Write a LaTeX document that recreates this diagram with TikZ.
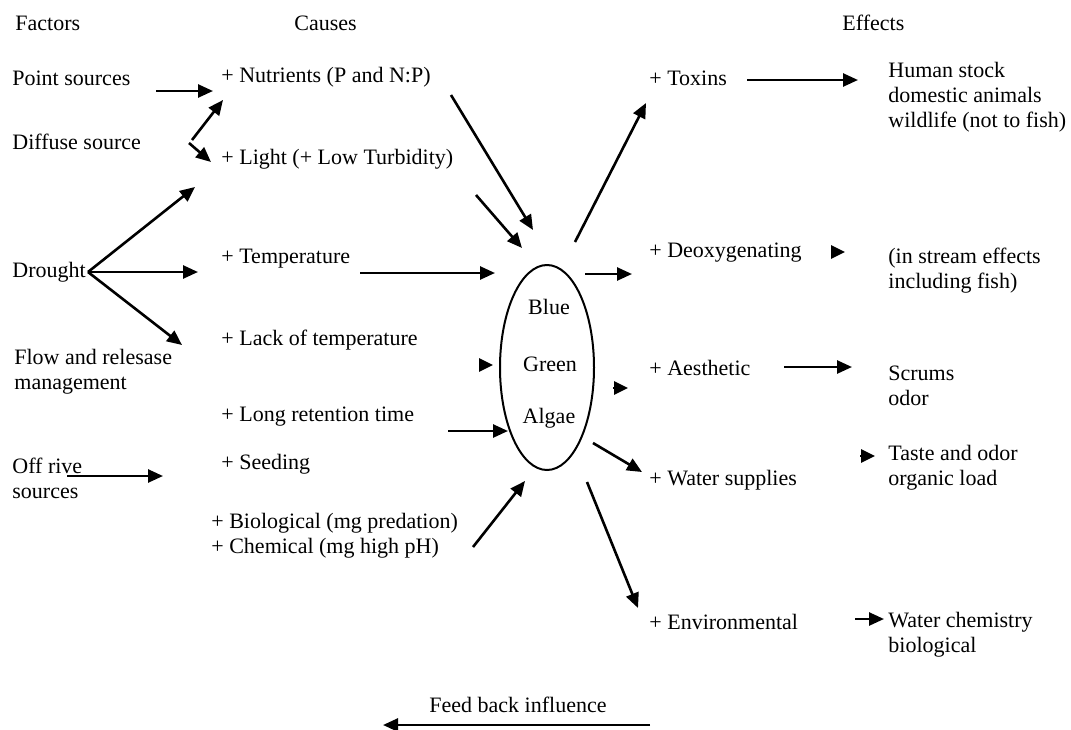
\documentclass[tikz,border=0pt]{standalone}
\usepackage{fontspec}
\setmainfont{Liberation Serif}
\usetikzlibrary{shapes.geometric,arrows.meta}
\begin{document}
\begin{tikzpicture}[x=0.5pt,y=-0.5pt,
  lbl/.style={anchor=west,inner sep=0pt,align=left,font=\fontsize{11}{12.4}\selectfont},
  ctr/.style={inner sep=0pt,font=\fontsize{11}{12.4}\selectfont},
  arr/.style={line width=1.3pt,-{Triangle[length=7.5pt,width=6.5pt]}},
  stub/.style={line width=1.3pt,-{Triangle[length=7pt,width=6.5pt]}}]
\useasboundingbox (0,0) rectangle (1071,729);
% headers
\node[lbl] (hf) at (15,23) {Factors};
\node[lbl] (hc) at (294,23) {Causes};
\node[lbl] (he) at (842,23) {Effects};
% factors
\node[lbl] (ps) at (12,78) {Point sources};
\node[lbl] (ds) at (12,142) {Diffuse source};
\node[lbl] (dr) at (12,272) {Drought};
\node[lbl] (fl) at (14,372) {Flow and relesase\\management};
\node[lbl] (of) at (12,478) {Off rive\\sources};
% causes
\node[lbl] (nu) at (221,77) {+ Nutrients (P and N:P)};
\node[lbl] (li) at (221,159) {+ Light (+ Low Turbidity)};
\node[lbl] (te) at (221,259) {+ Temperature};
\node[lbl] (la) at (221,340) {+ Lack of temperature};
\node[lbl] (lo) at (221,417) {+ Long retention time};
\node[lbl] (se) at (221,464) {+ Seeding};
\node[lbl] (bc) at (211,536) {+ Biological (mg predation)\\+ Chemical (mg high pH)};
% algae
\node[draw,ellipse,line width=1pt,minimum width=47pt,minimum height=102.5pt,inner sep=0pt] (alg) at (547,367.5) {};
\node[ctr] (bl) at (549,307) {Blue};
\node[ctr] (gr) at (550,364) {Green};
\node[ctr] (ag) at (549,418) {Algae};
% effects
\node[lbl] (tx) at (649,78) {+ Toxins};
\node[lbl] (de) at (649,253) {+ Deoxygenating};
\node[lbl] (ae) at (649,368) {+ Aesthetic};
\node[lbl] (ws) at (649,480) {+ Water supplies};
\node[lbl] (en) at (649,622) {+ Environmental};
% outcomes
\node[lbl] (hu) at (888,97) {Human stock\\domestic animals\\wildlife (not to fish)};
\node[lbl] (is) at (888,271) {(in stream effects\\including fish)};
\node[lbl] (sc) at (888,385.5) {Scrums\\odor};
\node[lbl] (ta) at (888,468) {Taste and odor\\organic load};
\node[lbl] (wc) at (888,634.5) {Water chemistry\\biological};
\node[ctr] (fb) at (518,705) {Feed back influence};
% connector end points
\coordinate (a1s) at (156,91);  \coordinate (a1e) at (213,91);
\coordinate (a2s) at (192,140); \coordinate (a2e) at (223,100);
\coordinate (a3s) at (189,143); \coordinate (a3e) at (211,162);
\coordinate (dpt) at (88,272);
\coordinate (a4e) at (195,187);
\coordinate (a5e) at (198,272);
\coordinate (a6e) at (182,345);
\coordinate (a7s) at (451,95);  \coordinate (a7e) at (533,230);
\coordinate (a8s) at (476,195); \coordinate (a8e) at (522,248);
\coordinate (a9s) at (360,273); \coordinate (a9e) at (495,273);
\coordinate (a10s) at (479,365); \coordinate (a10e) at (493,365);
\coordinate (a11s) at (448,431); \coordinate (a11e) at (508,431);
\coordinate (a12s) at (67,476); \coordinate (a12e) at (163,476);
\coordinate (a13s) at (473,547); \coordinate (a13e) at (525,481);
\coordinate (a14s) at (575,242); \coordinate (a14e) at (646,103);
\coordinate (a15s) at (585,274); \coordinate (a15e) at (632,274);
\coordinate (a16s) at (747,80); \coordinate (a16e) at (858,80);
\coordinate (a17s) at (831,252); \coordinate (a17e) at (845,252);
\coordinate (a18s) at (613,388); \coordinate (a18e) at (628,388);
\coordinate (a19s) at (784,367); \coordinate (a19e) at (852,367);
\coordinate (a20s) at (593,443); \coordinate (a20e) at (642,472);
\coordinate (a21s) at (860,456); \coordinate (a21e) at (875,456);
\coordinate (a22s) at (587,482); \coordinate (a22e) at (638,608);
\coordinate (a23s) at (855,619); \coordinate (a23e) at (884,619);
\coordinate (a24s) at (650,725); \coordinate (a24e) at (383,725);
% connectors
\draw[arr] (a1s) -- (a1e);
\draw[arr] (a2s) -- (a2e);
\draw[arr] (a3s) -- (a3e);
\draw[arr] (dpt) -- (a4e);
\draw[arr] (dpt) -- (a5e);
\draw[arr] (dpt) -- (a6e);
\draw[arr] (a7s) -- (a7e);
\draw[arr] (a8s) -- (a8e);
\draw[arr] (a9s) -- (a9e);
\draw[stub] (a10s) -- (a10e);
\draw[arr] (a11s) -- (a11e);
\draw[arr] (a12s) -- (a12e);
\draw[arr] (a13s) -- (a13e);
\draw[arr] (a14s) -- (a14e);
\draw[arr] (a15s) -- (a15e);
\draw[arr] (a16s) -- (a16e);
\draw[stub] (a17s) -- (a17e);
\draw[stub] (a18s) -- (a18e);
\draw[arr] (a19s) -- (a19e);
\draw[arr] (a20s) -- (a20e);
\draw[stub] (a21s) -- (a21e);
\draw[arr] (a22s) -- (a22e);
\draw[arr] (a23s) -- (a23e);
\draw[arr] (a24s) -- (a24e);
\end{tikzpicture}
\end{document}
